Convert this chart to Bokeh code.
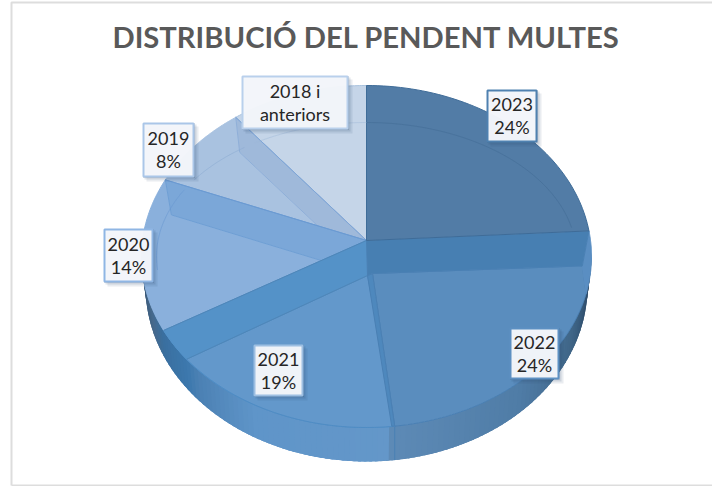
import math
from bokeh.plotting import figure
from bokeh.models import Range1d
from bokeh.core.properties import value
from bokeh.embed import file_html
from bokeh.resources import INLINE

TITLE = "DISTRIBUCIÓ DEL PENDENT MULTES"
categories = ["2023", "2022", "2021", "2020", "2019", "2018 i anteriors"]
shares = [24.0, 24.0, 19.2, 14.4, 8.4, 10.0]
show_pct = [True, True, True, True, True, False]
label_lines = [["2023"], ["2022"], ["2021"], ["2020"], ["2019"], ["2018 i", "anteriors"]]

surface_colors = ["#527ca6", "#5a8dbe", "#6398cb", "#8ab0dc", "#a9c2e0", "#c5d5e8"]
wall_colors = ["#477fb2", "#4e88bd", "#5492c8", "#7ba7d8", "#9fb9da"]
edge_colors = ["#3f6c98", "#4a80b4", "#4f8cc4", "#6b9ad2", "#7ea5d6", "#a9c2de"]
crease_colors = ["#4f86b8", "#6f9fd4", "#8fafd8"]
label_edges = ["#4f81b0", "#5d90c2", "#9dbfe2", "#8fb6e4", "#aac6e8", "#b9d0ec"]
label_boxes = [(487, 90, 536, 141), (510, 328, 558, 378), (254, 345, 302, 395),
               (104, 229, 152, 281), (143, 123, 193, 176), (242, 76, 347, 128)]

CX, CY, RX, RY = 366, 256, 225, 171      # rim of the pie top
AX, AY = 366, 240                        # apex of the wedges
UP, DOWN = 154, 187                      # apex-to-rim reach, upward and downward
DEPTH, INSET = 35, 0.97                  # bevel wall
BX, BY, BRX, BRY = 366, 286, 221, 175    # lower rim of the side wall

cum = [0.0]
for s in shares:
    cum.append(cum[-1] + s)
total = cum[-1]
fr = [c / total for c in cum]


def rim(f):
    """Point of the rim reached by the ray for pie fraction f."""
    a = 2 * math.pi * f
    c = math.cos(a)
    dx, dy = RX * math.sin(a), -(UP if c >= 0 else DOWN) * c
    ox, oy = AX - CX, AY - CY
    qa = (dx / RX) ** 2 + (dy / RY) ** 2
    qb = 2 * (ox * dx / RX ** 2 + oy * dy / RY ** 2)
    qc = (ox / RX) ** 2 + (oy / RY) ** 2 - 1
    t = (-qb + math.sqrt(qb * qb - 4 * qa * qc)) / (2 * qa)
    return AX + t * dx, AY + t * dy


def arc(f0, f1, n=60):
    return [rim(f0 + (f1 - f0) * i / n) for i in range(n + 1)]


def inner(f):
    x, y = rim(f)
    return CX + (x - CX) * INSET, y + DEPTH


def lerp_hex(stops, f):
    for (f0, c0), (f1, c1) in zip(stops, stops[1:]):
        if f <= f1:
            t = max(0, (f - f0) / (f1 - f0))
            a = [int(c0[i:i + 2], 16) for i in (1, 3, 5)]
            b = [int(c1[i:i + 2], 16) for i in (1, 3, 5)]
            return "#%02x%02x%02x" % tuple(round(p + (q - p) * t) for p, q in zip(a, b))
    return stops[-1][1]


p = figure(width=712, height=486, x_range=Range1d(0, 712), y_range=Range1d(486, 0),
           output_backend="svg", toolbar_location=None, min_border=0,
           x_axis_location=None, y_axis_location=None, outline_line_color=None)
p.grid.visible = False


def poly(points, fill, line=None, width=1.0, alpha=1.0):
    p.patch([q[0] for q in points], [q[1] for q in points], fill_color=fill, fill_alpha=alpha,
            line_color=line or fill, line_width=width)


def polyline(points, color, alpha=1.0, width=1.0):
    p.line([q[0] for q in points], [q[1] for q in points], line_color=color,
           line_alpha=alpha, line_width=width)


# frame
p.line([11, 11, 712], [485, 2, 2], line_color="#dddddd", line_width=2)
p.line([11, 712], [485, 485], line_color="#dddddd", line_width=2)

# outer side wall
b22, b21, b20 = fr[2], fr[3], fr[4]
side_stops = [(fr[1] + .04, "#2c4a68"), (fr[1] + .08, "#3f6587"), (fr[1] + .14, "#4f7ca6"),
              (b22, "#5d8ab6"), (b22 + .001, "#6497c9"), (b22 + .10, "#5f95c9"),
              (b22 + .15, "#4b80b3"), (b21 - .03, "#3c78ad"), (b21, "#3a6f9f"),
              (b21 + .02, "#46698c"), (b21 + .07, "#2e4a66")]
# stripes drawn in one direction, each overlapping the previous one, so no seams show
f, step = fr[1] + .02, .004
while f < b21 + .085:
    x0, y0 = rim(f)
    x1, y1 = rim(f + 2.5 * step)
    a0 = math.atan2((x0 - CX) / RX, -(y0 - CY) / RY)
    a1 = math.atan2((x1 - CX) / RX, -(y1 - CY) / RY)
    quad = [(x0, y0), (x1, y1),
            (BX + BRX * math.sin(a1), BY - BRY * math.cos(a1)),
            (BX + BRX * math.sin(a0), BY - BRY * math.cos(a0))]
    p.patch([q[0] for q in quad], [q[1] for q in quad], fill_color=lerp_hex(side_stops, f), line_color=None)
    f += step
xs, ys = rim(b22)
p.line([xs, xs], [ys, ys + 34], line_color="#4a80b4", line_width=1)

apex_low = (AX + 4, AY + DEPTH)
apex_22 = (AX + 6, AY + 33)
apex_21 = (AX + 1, AY + 35)

# base under the top faces, closes hairline gaps
poly(arc(fr[2], fr[3]) + [apex_21], wall_colors[2])

# 2018 i anteriors
poly([(AX, AY)] + arc(fr[5], fr[6]), surface_colors[5], edge_colors[5])
# 2019
poly([apex_low, inner(fr[5])] + arc(fr[5], fr[4]), surface_colors[4], surface_colors[4])
poly([(AX, AY), rim(fr[5]), inner(fr[5]), apex_low], wall_colors[4], crease_colors[2])
p.line(*zip((AX, AY), rim(fr[5])), line_color=edge_colors[4], line_width=1)
# 2020
poly([apex_low, inner(fr[4])] + arc(fr[4], fr[3]), surface_colors[3], surface_colors[3])
poly([(AX, AY), rim(fr[4]), inner(fr[4]), apex_low], wall_colors[3], crease_colors[1])
p.line(*zip((AX, AY), rim(fr[4])), line_color=edge_colors[3], line_width=1)
# 2021: surface stops where its wall's lower edge leaves the rim; the wall stays inside the rim
ix, iy = inner(fr[3])
def below(q):
    return (ix - apex_21[0]) * (q[1] - apex_21[1]) - (iy - apex_21[1]) * (q[0] - apex_21[0]) <= 0
kept = [q for q in arc(fr[2], fr[3], 120) if below(q)]
dropped = [q for q in arc(fr[2], fr[3], 120) if not below(q)]
poly([apex_21] + kept, surface_colors[2], edge_colors[2])
poly([(AX, AY)] + dropped[::-1] + [kept[-1], apex_21], wall_colors[2], wall_colors[2])
p.line(*zip((AX, AY), rim(fr[3])), line_color=crease_colors[0], line_width=1)
p.line(*zip(apex_21, kept[-1]), line_color=crease_colors[0], line_width=1)
# 2022
crease = fr[1] + .055
poly([apex_22, inner(fr[1])] + arc(crease, fr[2]), surface_colors[1], edge_colors[1])
poly([inner(fr[1]), rim(fr[1])] + arc(fr[1], crease), "#5a8ec2", "#5a8ec2")
b = rim(fr[2])
poly([apex_22, b, (b[0] - 3, b[1]), apex_21], wall_colors[1], edge_colors[1])
poly([(AX, AY), rim(fr[1]), inner(fr[1]), apex_22, apex_21], wall_colors[0], edge_colors[1])
# 2023
poly([(AX, AY)] + arc(0, fr[1]), surface_colors[0], edge_colors[0])


# faint bevel arcs
def bevel(f0, f1):
    pts = []
    for x, y in arc(f0, f1):
        pts.append((CX + (x - CX) * 210 / RX, CY + (y - CY) * 134 / RY))
    return pts


polyline(bevel(fr[0], fr[1] - .012), "#466f98", .7)
polyline(bevel(fr[5] + .01, fr[6]), "#9db7d6", .45)
polyline(bevel(fr[4] + .025, fr[5]), "#8cabd2", .6)
polyline(bevel(fr[3] + .05, fr[4] + .01), "#6b9ad2", .6)

# title
p.text([366], [36], text=[TITLE], text_font=value("Lato"), text_font_style="bold",
       text_font_size="29.2px", text_color="#595959", text_align="center", text_baseline="middle")

# labels
for (x0, y0, x1, y1), edge, lines, share, show in zip(label_boxes, label_edges, label_lines, shares, show_pct):
    for k, al in ((5, .10), (3, .14), (1.5, .18)):
        p.quad(left=[x0 + k - 2], right=[x1 + k], top=[y0 + k - 2], bottom=[y1 + k],
               fill_color="#27466b", fill_alpha=al, line_color=None)
    p.quad(left=[x0], right=[x1], top=[y0], bottom=[y1], fill_color="#f5f7fb", fill_alpha=.97,
           line_color=edge, line_width=2)
    rows = list(lines) + ([f"{round(share)}%"] if show else [])
    xm, ym = (x0 + x1) / 2, (y0 + y1) / 2
    for i, row in enumerate(rows):
        p.text([xm], [ym + (i - (len(rows) - 1) / 2) * 22.5], text=[row], text_font=value("Lato"),
               text_font_size="18px", text_color="#262626", text_align="center", text_baseline="middle")

open("out.html", "w").write(file_html(p, INLINE))
